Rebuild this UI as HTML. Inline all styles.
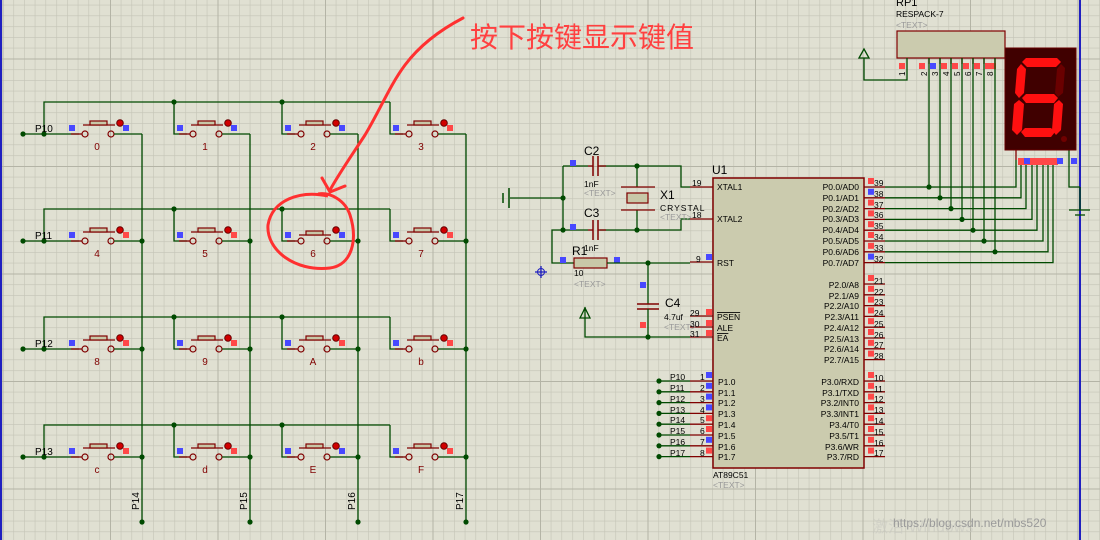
<!DOCTYPE html>
<html><head><meta charset="utf-8"><style>
html,body{margin:0;padding:0;background:#e0e0d2;}
svg{display:block;}
text{font-family:"Liberation Sans",sans-serif;}
</style></head><body>
<svg id="s" width="1100" height="540" viewBox="0 0 1100 540" xmlns="http://www.w3.org/2000/svg">
<defs>
<pattern id="mi" x="2.5" y="4.75" width="10.75" height="10.75" patternUnits="userSpaceOnUse">
<path d="M0 0H10.75M0 0V10.75" stroke="#c4c4b6" stroke-width="1.2" fill="none"/></pattern>
<pattern id="ma" x="2.5" y="-49" width="107.5" height="107.5" patternUnits="userSpaceOnUse">
<path d="M0 0H107.5M0 0V107.5" stroke="#b4b4a6" stroke-width="2" fill="none"/></pattern>
</defs>
<rect width="1100" height="540" fill="#e0e0d2"/>
<rect width="1100" height="540" fill="url(#mi)"/>
<rect width="1100" height="540" fill="url(#ma)"/>
<line x1="1" y1="0" x2="1" y2="540" stroke="#2020c0" stroke-width="2"/>
<line x1="1080" y1="0" x2="1080" y2="540" stroke="#2020c0" stroke-width="2"/>
<g id="g"></g>
<g font-size="10" fill="#000">
<text x="35" y="132">P10</text><text x="35" y="239">P11</text><text x="35" y="347">P12</text><text x="35" y="455">P13</text>
</g>
<g font-size="10" fill="#800000" text-anchor="middle">
<text x="97" y="150">0</text><text x="205" y="150">1</text><text x="313" y="150">2</text><text x="421" y="150">3</text>
<text x="97" y="257">4</text><text x="205" y="257">5</text><text x="313" y="257">6</text><text x="421" y="257">7</text>
<text x="97" y="365">8</text><text x="205" y="365">9</text><text x="313" y="365">A</text><text x="421" y="365">b</text>
<text x="97" y="473">c</text><text x="205" y="473">d</text><text x="313" y="473">E</text><text x="421" y="473">F</text>
</g>
<g font-size="10" fill="#000">
<text transform="translate(139,510) rotate(-90)">P14</text>
<text transform="translate(247,510) rotate(-90)">P15</text>
<text transform="translate(355,510) rotate(-90)">P16</text>
<text transform="translate(463,510) rotate(-90)">P17</text>
</g>
<g font-size="12" fill="#000">
<text x="584" y="155">C2</text><text x="584" y="217">C3</text><text x="572" y="255">R1</text>
<text x="665" y="307">C4</text><text x="660" y="199">X1</text><text x="712" y="174">U1</text>
</g>
<g font-size="8.5" fill="#000">
<text x="584" y="187">1nF</text><text x="584" y="251">1nF</text><text x="574" y="276">10</text>
<text x="664" y="320">4.7uf</text><text x="660" y="211" letter-spacing="1">CRYSTAL</text>
<text x="896" y="17">RESPACK-7</text>
<text x="713" y="478">AT89C51</text>
</g>
<text x="896" y="6" font-size="11">RP1</text>
<g font-size="8.5" fill="#999">
<text x="584" y="196">&lt;TEXT&gt;</text><text x="660" y="220">&lt;TEXT&gt;</text><text x="574" y="287">&lt;TEXT&gt;</text>
<text x="664" y="330">&lt;TEXT&gt;</text><text x="896" y="28">&lt;TEXT&gt;</text><text x="713" y="488">&lt;TEXT&gt;</text>
</g>
<g font-size="8.5" fill="#000">
<text x="717" y="190">XTAL1</text><text x="717" y="222">XTAL2</text><text x="717" y="266">RST</text>
<text x="717" y="320" text-decoration="overline">PSEN</text><text x="717" y="331">ALE</text><text x="717" y="341" text-decoration="overline">EA</text>
<text x="718" y="385">P1.0</text><text x="718" y="396">P1.1</text><text x="718" y="406">P1.2</text><text x="718" y="417">P1.3</text>
<text x="718" y="428">P1.4</text><text x="718" y="439">P1.5</text><text x="718" y="450">P1.6</text><text x="718" y="460">P1.7</text>
</g>
<g font-size="8.5" fill="#000" text-anchor="end">
<text x="859" y="190">P0.0/AD0</text><text x="859" y="201">P0.1/AD1</text><text x="859" y="212">P0.2/AD2</text><text x="859" y="222">P0.3/AD3</text>
<text x="859" y="233">P0.4/AD4</text><text x="859" y="244">P0.5/AD5</text><text x="859" y="255">P0.6/AD6</text><text x="859" y="266">P0.7/AD7</text>
<text x="859" y="288">P2.0/A8</text><text x="859" y="299">P2.1/A9</text><text x="859" y="309">P2.2/A10</text><text x="859" y="320">P2.3/A11</text>
<text x="859" y="331">P2.4/A12</text><text x="859" y="342">P2.5/A13</text><text x="859" y="352">P2.6/A14</text><text x="859" y="363">P2.7/A15</text>
<text x="859" y="385">P3.0/RXD</text><text x="859" y="396">P3.1/TXD</text><text x="859" y="406">P3.2/INT0</text><text x="859" y="417">P3.3/INT1</text>
<text x="859" y="428">P3.4/T0</text><text x="859" y="439">P3.5/T1</text><text x="859" y="450">P3.6/WR</text><text x="859" y="460">P3.7/RD</text>
</g>
<g font-size="8.5" fill="#000">
<text x="874" y="186">39</text><text x="874" y="197">38</text><text x="874" y="208">37</text><text x="874" y="218">36</text>
<text x="874" y="229">35</text><text x="874" y="240">34</text><text x="874" y="251">33</text><text x="874" y="262">32</text>
<text x="874" y="284">21</text><text x="874" y="295">22</text><text x="874" y="305">23</text><text x="874" y="316">24</text>
<text x="874" y="327">25</text><text x="874" y="338">26</text><text x="874" y="348">27</text><text x="874" y="359">28</text>
<text x="874" y="381">10</text><text x="874" y="392">11</text><text x="874" y="402">12</text><text x="874" y="413">13</text>
<text x="874" y="424">14</text><text x="874" y="435">15</text><text x="874" y="446">16</text><text x="874" y="456">17</text>
<text x="692" y="186">19</text><text x="692" y="218">18</text><text x="696" y="262">9</text>
<text x="690" y="316">29</text><text x="690" y="327">30</text><text x="690" y="337">31</text>
<text x="670" y="380">P10</text><text x="670" y="391">P11</text><text x="670" y="402">P12</text><text x="670" y="413">P13</text>
<text x="670" y="423">P14</text><text x="670" y="434">P15</text><text x="670" y="445">P16</text><text x="670" y="456">P17</text>
<text x="700" y="380">1</text><text x="700" y="391">2</text><text x="700" y="402">3</text><text x="700" y="413">4</text>
<text x="700" y="423">5</text><text x="700" y="434">6</text><text x="700" y="445">7</text><text x="700" y="456">8</text>
</g>
<g font-size="8" fill="#000">
<text transform="translate(905,76) rotate(-90)">1</text><text transform="translate(927,76) rotate(-90)">2</text>
<text transform="translate(938,76) rotate(-90)">3</text><text transform="translate(949,76) rotate(-90)">4</text>
<text transform="translate(960,76) rotate(-90)">5</text><text transform="translate(971,76) rotate(-90)">6</text>
<text transform="translate(982,76) rotate(-90)">7</text><text transform="translate(993,76) rotate(-90)">8</text>
</g>
<text x="470" y="47" font-size="28" fill="#ff4040" font-family="'Liberation Sans','Noto Sans CJK SC',sans-serif">按下按键显示键值</text>
<path d="M463,18 C440,30 420,45 405,65 C390,85 380,110 365,135 C352,155 340,172 330,190 M322,178 L330,192 L345,186" stroke="#ff3030" stroke-width="3" fill="none" stroke-linecap="round"/>
<path d="M328,196 C300,190 272,200 268,225 C266,250 295,272 330,268 C352,265 358,240 350,215 C345,200 330,192 318,194" stroke="#ff3030" stroke-width="3" fill="none"/>
<text x="872" y="532" font-size="16" fill="#c8c8c0" opacity="0.6">激活 Windows</text>
<text x="893" y="527" font-size="12" fill="#9a9a9a">https://blog.csdn.net/mbs520</text>
</svg>
<script>
var g=document.getElementById('g'),NS='http://www.w3.org/2000/svg',W='#004a00',R='#800000';
function el(t,a){var e=document.createElementNS(NS,t);for(var k in a)e.setAttribute(k,a[k]);g.appendChild(e);return e;}
function L(p,c,w){el('polyline',{points:p,stroke:c||W,'stroke-width':w||1.3,fill:'none'});}
function D(x,y){el('circle',{cx:x,cy:y,r:2.6,fill:W});}
function Q(x,y,c){el('rect',{x:x,y:y,width:6,height:6,fill:c});}
var rows=[134,241,349,457];
for(var r=0;r<4;r++){var y=rows[r],t=y-32;
 L('23,'+y+' 44,'+y);D(23,y);D(44,y);
 L('44,'+y+' 44,'+t+' 390,'+t);
 for(var c=0;c<4;c++){var o=108*c;
  if(c>0){L((174+108*(c-1))+','+t+' '+(174+108*(c-1))+','+y+' '+(79+o)+','+y);if(c<3)D(174+108*(c-1),t);}
  else L('44,'+y+' 79,'+y);
  el('line',{x1:71+o,y1:y,x2:82+o,y2:y,stroke:R,'stroke-width':1.3});
  el('circle',{cx:85+o,cy:y,r:3,fill:'none',stroke:R,'stroke-width':1.2});
  el('circle',{cx:111+o,cy:y,r:3,fill:'none',stroke:R,'stroke-width':1.2});
  var pr=(r==1&&c==2)?3:0;
  el('line',{x1:83+o,y1:y-9+pr,x2:115+o,y2:y-9+pr,stroke:R,'stroke-width':1.3});
  el('rect',{x:90+o,y:y-13+pr,width:17,height:4,fill:'#c8c8a8',stroke:R,'stroke-width':1.2});
  el('line',{x1:114+o,y1:y,x2:142+o,y2:y,stroke:W,'stroke-width':1.3});
  el('circle',{cx:120+o,cy:y-11,r:3.3,fill:'#d00000',stroke:'#600',"stroke-width":1});
  Q(69+o,y-9,'#4848ff');Q(123+o,y-9,(r==0&&c<3)||(r==1&&c==2)||(r==3&&c==2)?'#4848ff':'#ff4848');
  if(r>0)D(142+o,y);
 }
}
for(var c=0;c<4;c++){var x=142+108*c;L(x+',134 '+x+',522');D(x,522);}
el('rect',{x:713,y:178,width:151,height:290,fill:'#cbcbae',stroke:R,'stroke-width':1.5});
function pinsR(y0,n){for(var i=0;i<n;i++){var y=y0+i*10.8;L('864,'+y+' 885,'+y,R);Q(868,y-9,i==1&&y0==187||i==7&&y0==187?'#4848ff':'#ff4848');}}
pinsR(187,8);pinsR(284,8);pinsR(381,8);
for(var i=0;i<8;i++){var y=381+i*10.8;L('690,'+y+' 713,'+y,R);L('659,'+y+' 690,'+y);D(659,y);Q(706,y-9,(i<4||i==6)?'#4848ff':'#ff4848');}
[[187],[219],[262],[316],[327],[337]].forEach(function(a){L('690,'+a[0]+' 713,'+a[0],R);});
Q(706,254,'#4848ff');Q(706,309,'#ff4848');Q(706,320,'#ff4848');Q(706,330,'#ff4848');
L('563,166 588,166');L('600,166 681,166 681,187 690,187');L('563,166 563,230');
L('563,230 588,230');L('600,230 681,230 681,219 690,219');
L('510,198 563,198');D(563,198);D(563,230);D(637,166);D(637,230);
L('509,188 509,208',W,1.5);L('503,193 503,203',W,1.5);
L('588,166 593,166',R);L('598,166 606,166',R);L('593,156 593,176',R,1.5);L('598,156 598,176',R,1.5);
L('588,230 593,230',R);L('598,230 606,230',R);L('593,220 593,240',R,1.5);L('598,220 598,240',R,1.5);
L('637,166 637,187');L('637,210 637,230');L('621,187 655,187',R);L('621,210 655,210',R);
el('rect',{x:627,y:193,width:21,height:10,fill:'#c8c8a8',stroke:R,'stroke-width':1.2});
Q(570,160,'#4848ff');Q(570,224,'#4848ff');
L('563,230 552,230 552,263 574,263');
el('rect',{x:574,y:258,width:33,height:10,fill:'#c8c8a8',stroke:R,'stroke-width':1.2});
Q(560,257,'#4848ff');Q(614,257,'#4848ff');
L('607,263 690,263');D(648,263);
L('648,263 648,304');L('637,304 659,304',R,1.5);L('637,309 659,309',R,1.5);L('648,309 648,337');D(648,337);
Q(640,282,'#4848ff');Q(640,322,'#ff4848');
L('585,307 585,337 690,337');el('path',{d:'M580,318 L585,308 L590,318 Z',fill:'none',stroke:W,'stroke-width':1.3});
L('541,266 541,278',"#2020c0");L('535,272 547,272',"#2020c0");el('circle',{cx:541,cy:272,r:3.5,fill:'none',stroke:'#2020c0'});
el('rect',{x:897,y:31,width:108,height:27,fill:'#cbcbae',stroke:R,'stroke-width':1.2});
L('907,58 907,80 864,80 864,58');el('path',{d:'M859,58 L864,49 L869,58 Z',fill:'none',stroke:W,'stroke-width':1.3});
Q(899,63,'#ff4848');
var px=[929,940,951,962,973,984,995];
px.forEach(function(x,i){L(x+',58 '+x+',64',R);Q(x-10,63,i==1?'#4848ff':'#ff4848');});
Q(990,63,'#ff4848');
var dx=[1016,1021,1026,1032,1037,1043,1048,1053];
for(var i=0;i<8;i++){var y=187+i*10.8;L('885,'+y+' '+dx[i]+','+y+' '+dx[i]+',160');if(i<7){L(px[i]+',58 '+px[i]+','+y);D(px[i],y);}}
L('1069,150 1069,187 1080,187');L('1069,210 1090,210');L('1075,215 1085,215');L('1080,187 1080,210');
el('rect',{x:1005,y:48,width:71,height:102,fill:'#400000',stroke:'#600',"stroke-width":1});
function seg(p,c){el('polygon',{points:p,fill:c});}
var RED='#ff1010';
seg('1026,58 1057,58 1061,62 1056,67 1027,67 1022,62',RED);          // top
seg('1021,64 1026,69 1024,93 1019,98 1015,93 1017,69',RED);          // upper-left
seg('1061,64 1065,68 1063,93 1058,97 1055,93 1057,69','#6a0000');    // upper-right (off)
seg('1022,98 1026,94 1054,94 1058,98 1054,103 1026,103',RED);        // middle
seg('1019,100 1024,104 1022,130 1017,135 1012,130 1014,104',RED);    // lower-left
seg('1059,100 1063,104 1061,130 1056,135 1052,130 1054,104',RED);    // lower-right
seg('1021,132 1025,128 1051,128 1055,132 1051,137 1025,137',RED);    // bottom
el('circle',{cx:1064,cy:139,r:3,fill:'#700000'});
L('1016,150 1016,160',R);
el('rect',{x:1018,y:158,width:40,height:7,fill:'#ff4848'});Q(1024,158,'#4848ff');Q(1057,158,'#4848ff');Q(1071,158,'#4848ff');
</script>
</body></html>
